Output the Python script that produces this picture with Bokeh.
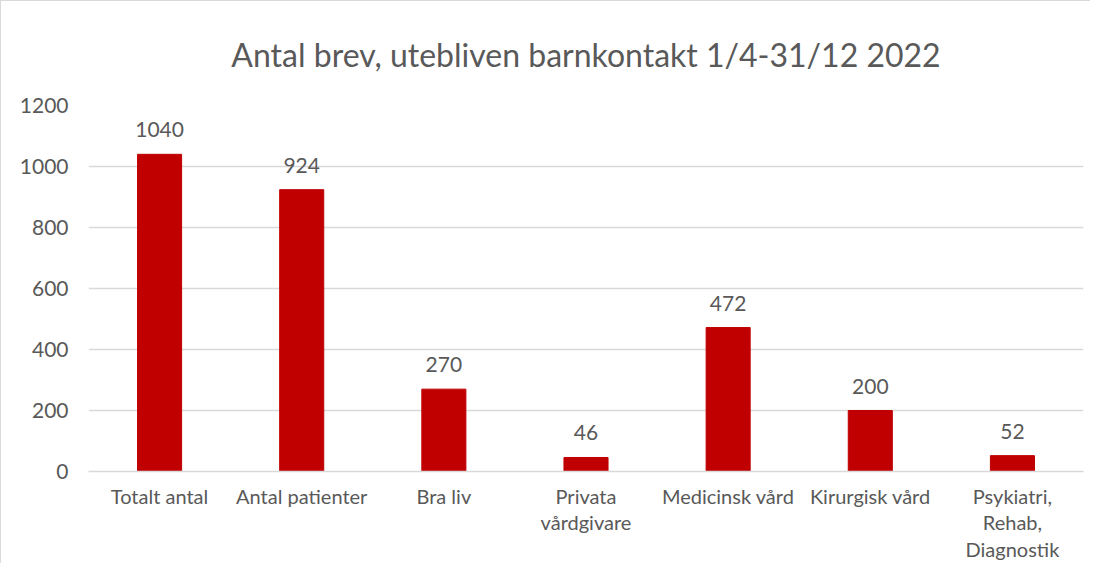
from bokeh.plotting import figure
from bokeh.models import ColumnDataSource, Range1d, FactorRange, FixedTicker, Title
from bokeh.embed import file_html
from bokeh.resources import INLINE
from bokeh.core.properties import value

categories = ["Totalt antal", "Antal patienter", "Bra liv", "Privata\nvårdgivare",
              "Medicinsk vård", "Kirurgisk vård", "Psykiatri,\nRehab,\nDiagnostik"]
counts = [1040, 924, 270, 46, 472, 200, 52]
y_ticks = [0, 200, 400, 600, 800, 1000, 1200]
title_text = "Antal brev, utebliven barnkontakt 1/4-31/12 2022"

FONT = "Lato"
GRAY = "#595959"
GRID = "#d9d9d9"
BAR = "#C00000"

source = ColumnDataSource(dict(cat=categories, val=counts, lbl=[str(v) for v in counts]))

p = figure(width=1090, height=563, x_range=FactorRange(*categories, range_padding=0),
           y_range=Range1d(0, 1200), output_backend="svg", toolbar_location=None,
           min_border_left=87, min_border_right=8, min_border_top=97, min_border_bottom=10)

p.title = Title(text=title_text, align="center", text_font=FONT, text_font_size="32px",
                text_color=GRAY, text_font_style="normal", standoff=63)

p.vbar(x="cat", top="val", width=0.31, source=source, fill_color=BAR,
       line_color=BAR)
p.text(x="cat", y="val", text="lbl", source=source, text_align="center",
       text_baseline="bottom", y_offset=-17, text_font=value(FONT),
       text_font_size="21px", text_color=GRAY)

p.outline_line_color = None
p.xgrid.grid_line_color = None
p.ygrid.grid_line_color = GRID
p.ygrid.grid_line_width = 1.5
p.yaxis.ticker = FixedTicker(ticks=y_ticks)
p.yaxis.axis_line_color = None
p.yaxis.major_tick_line_color = None
p.yaxis.minor_tick_line_color = None
p.yaxis.major_label_text_font = FONT
p.yaxis.major_label_text_font_size = "21px"
p.yaxis.major_label_text_color = GRAY
p.yaxis.major_label_standoff = 14

p.xaxis.axis_line_color = GRID
p.xaxis.axis_line_width = 1.5
p.xaxis.major_tick_line_color = None
p.xaxis.minor_tick_line_color = None
p.xaxis.major_label_text_font = FONT
p.xaxis.major_label_text_font_size = "20px"
p.xaxis.major_label_text_color = GRAY
p.xaxis.major_label_text_line_height = 1.12
p.xaxis.major_label_standoff = 6
p.xaxis.major_label_orientation = "horizontal"

p.styles = {"border-left": "1px solid #d9d9d9", "border-top": "1px solid #d9d9d9"}

open("out.html", "w").write(file_html(p, INLINE))
